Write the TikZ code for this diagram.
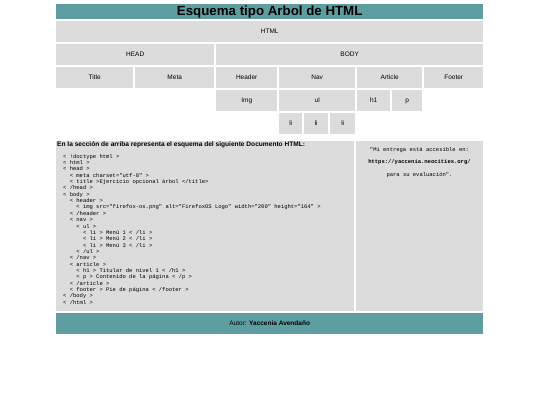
\documentclass[tikz,border=0pt]{standalone}
\usepackage{fontspec}
\setmainfont{Liberation Sans}
\setmonofont{Liberation Mono}
\definecolor{verdeazul}{RGB}{95,158,160}
\definecolor{grisclaro}{RGB}{220,220,220}
\tikzset{
  caja/.style={fill=grisclaro, anchor=north west, inner sep=0pt, text height=4.8pt, text depth=1.4pt, font=\fontsize{6.5}{7}\selectfont},
  barra/.style={fill=verdeazul, anchor=north west, inner sep=0pt}
}
\newcommand{\ind}[1]{\hspace*{#1em}}
\begin{document}
\begin{tikzpicture}[x=1pt,y=-1pt]
\useasboundingbox (0,0) rectangle (540,405);

% titulo
\node[barra, minimum width=427pt, minimum height=15pt, font=\fontsize{13.3}{14}\selectfont\bfseries] (titulo) at (56,4) {Esquema tipo Arbol de HTML};

% arbol
\node[caja, minimum width=427pt, minimum height=21pt] (html) at (56,21) {HTML};

\node[caja, minimum width=158pt, minimum height=21pt] (head) at (56,44) {HEAD};
\node[caja, minimum width=267pt, minimum height=21pt] (body) at (216,44) {BODY};

\node[caja, minimum width=77pt, minimum height=21pt] (title) at (56,67) {Title};
\node[caja, minimum width=79pt, minimum height=21pt] (meta) at (135,67) {Meta};
\node[caja, minimum width=61pt, minimum height=21pt] (header) at (216,67) {Header};
\node[caja, minimum width=76pt, minimum height=21pt] (nav) at (279,67) {Nav};
\node[caja, minimum width=65pt, minimum height=21pt] (article) at (357,67) {Article};
\node[caja, minimum width=59pt, minimum height=21pt] (footer) at (424,67) {Footer};

\node[caja, minimum width=61pt, minimum height=21pt] (img) at (216,90) {Img};
\node[caja, minimum width=76pt, minimum height=21pt] (ul) at (279,90) {ul};
\node[caja, minimum width=33pt, minimum height=21pt] (h1) at (357,90) {h1};
\node[caja, minimum width=30pt, minimum height=21pt] (p) at (392,90) {p};

\node[caja, minimum width=23pt, minimum height=21pt] (li1) at (279,113) {li};
\node[caja, minimum width=24pt, minimum height=21pt] (li2) at (304,113) {li};
\node[caja, minimum width=25pt, minimum height=21pt] (li3) at (330,113) {li};

% documento
\node[caja, minimum width=298pt, minimum height=170pt] (codigo) at (56,141) {};
\node[caja, minimum width=127pt, minimum height=170pt] (entrega) at (356,141) {};

\node[anchor=west, inner sep=0pt, font=\fontsize{6.6}{7}\selectfont\bfseries] (intro) at (57,145) {En la sección de arriba representa el esquema del siguiente Documento HTML:};

\node[anchor=north west, inner sep=0pt, align=left, font=\fontsize{5.5}{6.35}\ttfamily] (lineas) at (63,154) {%
< !doctype html >\\
< html >\\
< head >\\
\ind{1.2}< meta charset="utf-8" >\\
\ind{1.2}< title >Ejercicio opcional árbol </title>\\
< /head >\\
< body >\\
\ind{1.2}< header >\\
\ind{2.4}< img src="firefox-os.png" alt="FirefoxOS Logo" width="200" height="164" >\\
\ind{1.2}< /header >\\
\ind{1.2}< nav >\\
\ind{2.4}< ul >\\
\ind{3.6}< li > Menú 1 < /li >\\
\ind{3.6}< li > Menú 2 < /li >\\
\ind{3.6}< li > Menú 3 < /li >\\
\ind{2.4}< /ul >\\
\ind{1.2}< /nav >\\
\ind{1.2}< article >\\
\ind{2.4}< h1 > Titular de nivel 1 < /h1 >\\
\ind{2.4}< p > Contenido de la página < /p >\\
\ind{1.2}< /article >\\
\ind{1.2}< footer > Pie de página < /footer >\\
< /body >\\
< /html >};

\node[inner sep=0pt, font=\fontsize{5.5}{6}\ttfamily] (aviso1) at (419.5,150) {"Mi entrega está accesible en:};
\node[inner sep=0pt, font=\fontsize{5.5}{6}\ttfamily\bfseries] (aviso2) at (419.5,162.5) {https://yaccenia.neocities.org/};
\node[inner sep=0pt, font=\fontsize{5.5}{6}\ttfamily] (aviso3) at (419.5,175) {para su evaluación".};

% pie
\node[barra, minimum width=427pt, minimum height=21pt, text height=4.8pt, text depth=1.4pt, font=\fontsize{6.5}{7}\selectfont] (autor) at (56,313) {Autor: \textbf{Yaccenia Avendaño}};

\end{tikzpicture}
\end{document}
